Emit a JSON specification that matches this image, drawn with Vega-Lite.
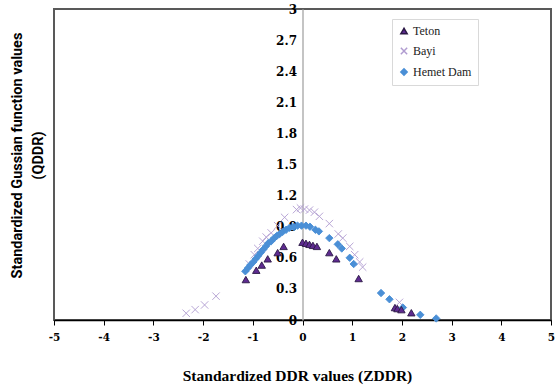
{
  "$schema": "https://vega.github.io/schema/vega-lite/v6.json",
  "width": 497,
  "height": 311,
  "autosize": {"type": "none"},
  "padding": {"left": 54, "top": 9, "right": 5, "bottom": 70},
  "background": "white",
  "config": {"view": {"stroke": "#595959", "strokeWidth": 2}, "font": "Liberation Serif"},
  "data": {"values": [
    {"series": "Bayi", "z": -2.34, "q": 0.065},
    {"series": "Bayi", "z": -2.16, "q": 0.10},
    {"series": "Bayi", "z": -1.97, "q": 0.145},
    {"series": "Bayi", "z": -1.74, "q": 0.23},
    {"series": "Bayi", "z": -1.07, "q": 0.54},
    {"series": "Bayi", "z": -0.97, "q": 0.63},
    {"series": "Bayi", "z": -0.90, "q": 0.69},
    {"series": "Bayi", "z": -0.80, "q": 0.76},
    {"series": "Bayi", "z": -0.73, "q": 0.80},
    {"series": "Bayi", "z": -0.63, "q": 0.84},
    {"series": "Bayi", "z": -0.50, "q": 0.91},
    {"series": "Bayi", "z": -0.36, "q": 0.99},
    {"series": "Bayi", "z": -0.12, "q": 1.065},
    {"series": "Bayi", "z": -0.04, "q": 1.08},
    {"series": "Bayi", "z": 0.04, "q": 1.07},
    {"series": "Bayi", "z": 0.14, "q": 1.06},
    {"series": "Bayi", "z": 0.24, "q": 1.04},
    {"series": "Bayi", "z": 0.34, "q": 1.0},
    {"series": "Bayi", "z": 0.54, "q": 0.93},
    {"series": "Bayi", "z": 0.72, "q": 0.83},
    {"series": "Bayi", "z": 0.81, "q": 0.79},
    {"series": "Bayi", "z": 0.95, "q": 0.71},
    {"series": "Bayi", "z": 1.05, "q": 0.63},
    {"series": "Bayi", "z": 1.15, "q": 0.56},
    {"series": "Bayi", "z": 1.21, "q": 0.51},
    {"series": "Bayi", "z": 1.95, "q": 0.17},
    {"series": "Hemet Dam", "z": -1.15, "q": 0.47},
    {"series": "Hemet Dam", "z": -1.10, "q": 0.50},
    {"series": "Hemet Dam", "z": -1.05, "q": 0.53},
    {"series": "Hemet Dam", "z": -0.99, "q": 0.56},
    {"series": "Hemet Dam", "z": -0.94, "q": 0.59},
    {"series": "Hemet Dam", "z": -0.89, "q": 0.62},
    {"series": "Hemet Dam", "z": -0.84, "q": 0.65},
    {"series": "Hemet Dam", "z": -0.79, "q": 0.68},
    {"series": "Hemet Dam", "z": -0.74, "q": 0.71},
    {"series": "Hemet Dam", "z": -0.69, "q": 0.74},
    {"series": "Hemet Dam", "z": -0.63, "q": 0.76},
    {"series": "Hemet Dam", "z": -0.57, "q": 0.79},
    {"series": "Hemet Dam", "z": -0.52, "q": 0.81},
    {"series": "Hemet Dam", "z": -0.46, "q": 0.83},
    {"series": "Hemet Dam", "z": -0.40, "q": 0.85},
    {"series": "Hemet Dam", "z": -0.33, "q": 0.87},
    {"series": "Hemet Dam", "z": -0.26, "q": 0.89},
    {"series": "Hemet Dam", "z": -0.18, "q": 0.90},
    {"series": "Hemet Dam", "z": -0.10, "q": 0.91},
    {"series": "Hemet Dam", "z": -0.02, "q": 0.91},
    {"series": "Hemet Dam", "z": 0.07, "q": 0.91},
    {"series": "Hemet Dam", "z": 0.15, "q": 0.90},
    {"series": "Hemet Dam", "z": 0.26, "q": 0.87},
    {"series": "Hemet Dam", "z": 0.33, "q": 0.855},
    {"series": "Hemet Dam", "z": 0.54, "q": 0.79},
    {"series": "Hemet Dam", "z": 0.71, "q": 0.73},
    {"series": "Hemet Dam", "z": 0.79, "q": 0.69},
    {"series": "Hemet Dam", "z": 0.95, "q": 0.60},
    {"series": "Hemet Dam", "z": 1.03, "q": 0.54},
    {"series": "Hemet Dam", "z": 1.58, "q": 0.26},
    {"series": "Hemet Dam", "z": 1.75, "q": 0.20},
    {"series": "Hemet Dam", "z": 2.02, "q": 0.12},
    {"series": "Hemet Dam", "z": 2.37, "q": 0.05},
    {"series": "Hemet Dam", "z": 2.69, "q": 0.015},
    {"series": "Teton", "z": -1.14, "q": 0.39},
    {"series": "Teton", "z": -0.93, "q": 0.48},
    {"series": "Teton", "z": -0.82, "q": 0.53},
    {"series": "Teton", "z": -0.70, "q": 0.59},
    {"series": "Teton", "z": -0.50, "q": 0.65},
    {"series": "Teton", "z": -0.38, "q": 0.71},
    {"series": "Teton", "z": 0.0, "q": 0.75},
    {"series": "Teton", "z": 0.07, "q": 0.74},
    {"series": "Teton", "z": 0.14, "q": 0.73},
    {"series": "Teton", "z": 0.21, "q": 0.72},
    {"series": "Teton", "z": 0.29, "q": 0.71},
    {"series": "Teton", "z": 0.54, "q": 0.65},
    {"series": "Teton", "z": 0.68, "q": 0.59},
    {"series": "Teton", "z": 1.13, "q": 0.40},
    {"series": "Teton", "z": 1.86, "q": 0.12},
    {"series": "Teton", "z": 1.91, "q": 0.11},
    {"series": "Teton", "z": 1.99, "q": 0.10},
    {"series": "Teton", "z": 2.19, "q": 0.07}
  ]},
  "mark": {"type": "point", "filled": true, "strokeWidth": 0.9, "opacity": 1, "size": 55},
  "encoding": {
    "x": {
      "field": "z", "type": "quantitative",
      "scale": {"domain": [-5, 5], "nice": false, "zero": false},
      "axis": {
        "values": [-5, -4, -3, -2, -1, 0, 1, 2, 3, 4, 5],
        "labelExpr": "'' + datum.value",
        "grid": false,
        "domainColor": "#000000", "domainWidth": 1.5,
        "tickColor": "#000000", "tickSize": 5, "tickWidth": 1,
        "labelFont": "DejaVu Serif", "labelFontWeight": "bold", "labelFontSize": 10.5, "labelColor": "#000000",
        "labelPadding": 7, "labelFlush": false,
        "title": "Standardized DDR values (ZDDR)",
        "titleFont": "Liberation Serif", "titleFontSize": 15.5, "titleFontWeight": "bold", "titleColor": "#000000",
        "titlePadding": 26, "titleX": 243
      }
    },
    "y": {
      "field": "q", "type": "quantitative",
      "scale": {"domain": [0, 3], "nice": false},
      "axis": {
        "offset": -248.5,
        "values": [0, 0.3, 0.6, 0.9, 1.2, 1.5, 1.8, 2.1, 2.4, 2.7, 3],
        "format": ".1~f",
        "grid": false,
        "domainColor": "#b0b0b0", "domainWidth": 1.5,
        "ticks": false,
        "labelFont": "DejaVu Serif", "labelFontWeight": "bold", "labelFontSize": 12, "labelColor": "#000000",
        "labelPadding": 6,
        "title": ["Standardized Gussian function values", "(QDDR)"],
        "titleFont": "Roboto", "titleFontSize": 14.5, "titleFontWeight": "bold", "titleColor": "#000000",
        "titleAngle": 270, "titleAlign": "center", "titleBaseline": "bottom",
        "titleX": -278, "titleY": 146, "titleLineHeight": 21
      }
    },
    "fill": {
      "field": "series", "type": "nominal",
      "scale": {"domain": ["Teton", "Bayi", "Hemet Dam"], "range": ["#5e2b90", "#b9a7d6", "#4a8fd6"]},
      "legend": {"title": null, "orient": "none", "legendX": 338, "legendY": 10, "padding": 6, "strokeColor": "#d9d9d9", "fillColor": "white", "labelFont": "Liberation Serif", "labelFontSize": 12, "labelColor": "#222222", "symbolSize": 40, "rowPadding": 7, "labelOffset": 3}
    },
    "stroke": {
      "field": "series", "type": "nominal",
      "scale": {"domain": ["Teton", "Bayi", "Hemet Dam"], "range": ["#2b1845", "#b09cd0", "#4a8fd6"]},
      "legend": {"title": null, "orient": "none", "legendX": 338, "legendY": 10, "padding": 6, "strokeColor": "#d9d9d9", "fillColor": "white", "labelFont": "Liberation Serif", "labelFontSize": 12, "labelColor": "#222222", "symbolSize": 40, "rowPadding": 7, "labelOffset": 3}
    },
    "shape": {
      "field": "series", "type": "nominal",
      "scale": {"domain": ["Teton", "Bayi", "Hemet Dam"], "range": ["triangle-up", "M-1,-1L1,1M1,-1L-1,1", "diamond"]},
      "legend": {"title": null, "orient": "none", "legendX": 338, "legendY": 10, "padding": 6, "strokeColor": "#d9d9d9", "fillColor": "white", "labelFont": "Liberation Serif", "labelFontSize": 12, "labelColor": "#222222", "symbolSize": 40, "rowPadding": 7, "labelOffset": 3}
    }
  }
}
